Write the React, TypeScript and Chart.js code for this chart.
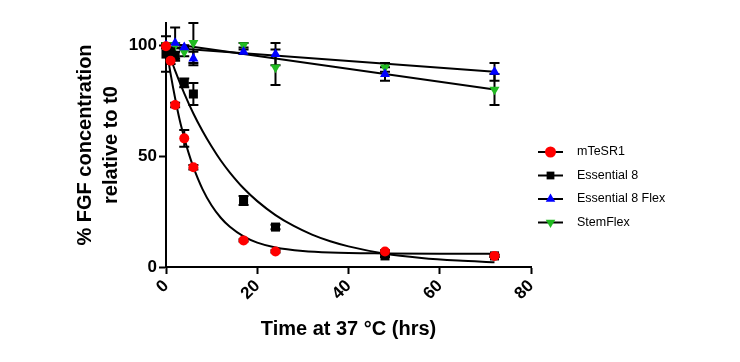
import React, { useEffect, useRef } from "react";
import { Chart, registerables } from "chart.js";

Chart.register(...registerables);

const FONT = '"Liberation Sans", Arial, Helvetica, sans-serif';

// Series meta
const seriesNames = ["mTeSR1", "Essential 8", "Essential 8 Flex", "StemFlex"];
const seriesColors = ["#ff0000", "#000000", "#0000ff", "#22bb22"];
const seriesShapes = ["circle", "rect", "triangle", "triangleDown"];

// Measured points (time in hours, % of t0, error)
const mTeSR1Times = [0, 1, 2, 4, 6, 17, 24, 48, 72];
const mTeSR1Values = [99.5, 93, 73, 58, 45, 12, 7, 7, 5];
const mTeSR1Errors = [1, 1.5, 1, 3.8, 1, 0.5, 0.5, 0.5, 0.5];

const e8Times = [0, 1, 2, 4, 6, 17, 24, 48, 72];
const e8Values = [96, 97, 95, 83, 78, 30, 18, 5, 5];
const e8Errors = [8, 2, 2, 2, 5, 2, 1, 0.5, 0.5];

const e8FlexTimes = [0, 2, 4, 6, 17, 24, 48, 72];
const e8FlexValues = [100, 101, 99, 94, 97, 96, 87, 88];
const e8FlexErrors = [1, 7, 1, 3, 1, 5, 3, 4];

const stemFlexTimes = [0, 2, 4, 6, 17, 24, 48, 72];
const stemFlexValues = [100, 100, 97, 101, 100, 90, 90, 80];
const stemFlexErrors = [1, 1, 2, 9, 1, 8, 2, 7];

// Fitted curves
const mTeSR1FitTimes = [0, 1, 2, 3, 4, 5, 6, 8, 10, 12, 14, 17, 20, 24, 30, 36, 48, 60, 72];
const mTeSR1FitValues = [100, 87.2, 76.1, 66.3, 58.3, 51.1, 45, 35.1, 27.7, 22.2, 18.1, 13.8, 11.0, 8.8, 7.2, 6.5, 6.1, 6.0, 6.0];

const e8FitTimes = [0, 2, 4, 6, 8, 10, 12, 14, 17, 20, 24, 28, 32, 36, 40, 48, 56, 64, 72];
const e8FitValues = [100, 88.5, 78.3, 69.2, 61.3, 54.3, 48.0, 42.6, 35.5, 29.7, 23.4, 18.5, 14.6, 11.6, 9.3, 6.0, 4.1, 2.9, 2.1];

const e8FlexFitTimes = [0, 72];
const e8FlexFitValues = [99, 88];

const stemFlexFitTimes = [0, 72];
const stemFlexFitValues = [101, 80];

// Axis ticks
const xTickValues = [0, 20, 40, 60, 80];
const yTickValues = [0, 50, 100];

const toPoints = (xs: number[], ys: number[]) => xs.map((x, i) => ({ x, y: ys[i] }));

function drawShape(ctx: CanvasRenderingContext2D, shape: string, x: number, y: number, r: number) {
  ctx.beginPath();
  if (shape === "circle") {
    ctx.arc(x, y, r, 0, Math.PI * 2);
  } else if (shape === "rect") {
    const s = r * Math.SQRT1_2;
    ctx.rect(x - s, y - s, 2 * s, 2 * s);
  } else if (shape === "triangle") {
    ctx.moveTo(x, y - r);
    ctx.lineTo(x + r * 0.866, y + r * 0.5);
    ctx.lineTo(x - r * 0.866, y + r * 0.5);
    ctx.closePath();
  } else {
    ctx.moveTo(x, y + r);
    ctx.lineTo(x + r * 0.866, y - r * 0.5);
    ctx.lineTo(x - r * 0.866, y - r * 0.5);
    ctx.closePath();
  }
  ctx.fill();
}

const errorBarsPlugin = {
  id: "errorBars",
  beforeDatasetsDraw(chart: any) {
    const ctx = chart.ctx;
    const xs = chart.scales.x;
    const ys = chart.scales.y;
    ctx.save();
    ctx.strokeStyle = "#000";
    ctx.lineWidth = 2;
    chart.data.datasets.forEach((ds: any) => {
      const errs = ds.errors;
      if (!errs) return;
      ds.data.forEach((p: any, i: number) => {
        const e = errs[i];
        if (!e) return;
        const x = xs.getPixelForValue(p.x);
        const y1 = ys.getPixelForValue(p.y + e);
        const y2 = ys.getPixelForValue(p.y - e);
        ctx.beginPath();
        ctx.moveTo(x, y1);
        ctx.lineTo(x, y2);
        ctx.moveTo(x - 5, y1);
        ctx.lineTo(x + 5, y1);
        ctx.moveTo(x - 5, y2);
        ctx.lineTo(x + 5, y2);
        ctx.stroke();
      });
    });
    ctx.restore();
  },
};

const legendPlugin = {
  id: "customLegend",
  afterDraw(chart: any) {
    const { ctx, chartArea } = chart;
    const x0 = chartArea.right + 7;
    const y0 = 152;
    const dy = 23.5;
    ctx.save();
    seriesNames.forEach((name, i) => {
      const y = y0 + i * dy;
      ctx.strokeStyle = "#000";
      ctx.lineWidth = 2;
      ctx.beginPath();
      ctx.moveTo(x0, y);
      ctx.lineTo(x0 + 25, y);
      ctx.stroke();
      ctx.fillStyle = seriesColors[i];
      drawShape(ctx, seriesShapes[i], x0 + 12.5, y, 5.5);
      ctx.fillStyle = "#000";
      ctx.font = `12.5px ${FONT}`;
      ctx.textBaseline = "middle";
      ctx.textAlign = "left";
      ctx.fillText(name, x0 + 39, y);
    });
    ctx.restore();
  },
};

export default function App() {
  const canvasRef = useRef<HTMLCanvasElement | null>(null);

  useEffect(() => {
    if (!canvasRef.current) return;
    const pointDs = (i: number, xs: number[], ys: number[], errs: number[], r: number) => ({
      type: "scatter",
      label: seriesNames[i],
      data: toPoints(xs, ys),
      errors: errs,
      showLine: false,
      pointStyle: seriesShapes[i] === "triangleDown" ? "triangle" : seriesShapes[i],
      rotation: seriesShapes[i] === "triangleDown" ? 180 : 0,
      pointRadius: r,
      pointHoverRadius: r,
      backgroundColor: seriesColors[i],
      borderColor: seriesColors[i],
      borderWidth: 0,
      clip: false,
    });
    const fitDs = (xs: number[], ys: number[]) => ({
      type: "line",
      label: "fit",
      data: toPoints(xs, ys),
      showLine: true,
      pointRadius: 0,
      borderColor: "#000",
      borderWidth: 2,
      fill: false,
      cubicInterpolationMode: "monotone",
      clip: false,
    });

    const chart = new Chart(canvasRef.current, {
      type: "scatter",
      data: {
        datasets: [
          pointDs(0, mTeSR1Times, mTeSR1Values, mTeSR1Errors, 5),
          pointDs(1, e8Times, e8Values, e8Errors, 6.4),
          pointDs(2, e8FlexTimes, e8FlexValues, e8FlexErrors, 5.8),
          pointDs(3, stemFlexTimes, stemFlexValues, stemFlexErrors, 5.8),
          fitDs(mTeSR1FitTimes, mTeSR1FitValues),
          fitDs(e8FitTimes, e8FitValues),
          fitDs(e8FlexFitTimes, e8FlexFitValues),
          fitDs(stemFlexFitTimes, stemFlexFitValues),
        ] as any,
      },
      options: {
        responsive: false,
        animation: false,
        devicePixelRatio: 1,
        layout: { padding: { left: 72, top: 23, right: 209, bottom: 17 } },
        plugins: {
          legend: { display: false },
          tooltip: { enabled: false },
        },
        scales: {
          x: {
            type: "linear",
            min: 0,
            max: 80,
            afterBuildTicks: (scale: any) => {
              scale.ticks = xTickValues.map((v) => ({ value: v }));
            },
            afterFit: (scale: any) => {
              scale.height = 78;
            },
            grid: { drawOnChartArea: false, drawTicks: true, tickLength: 7, tickWidth: 2, tickColor: "#000" },
            border: { display: true, color: "#000", width: 2 },
            ticks: {
              minRotation: 45,
              maxRotation: 45,
              padding: 2,
              color: "#000",
              font: { family: FONT, size: 17, weight: "bold" },
            },
            title: {
              display: true,
              text: "Time at 37 °C (hrs)",
              color: "#000",
              font: { family: FONT, size: 20, weight: "bold", lineHeight: 1.2 },
              padding: { top: 0, bottom: 4 },
            },
          },
          y: {
            type: "linear",
            min: 0,
            max: 110,
            afterBuildTicks: (scale: any) => {
              scale.ticks = yTickValues.map((v) => ({ value: v }));
            },
            afterFit: (scale: any) => {
              scale.width = 94;
            },
            grid: { drawOnChartArea: false, drawTicks: true, tickLength: 7, tickWidth: 2, tickColor: "#000" },
            border: { display: true, color: "#000", width: 2 },
            ticks: {
              padding: 2,
              color: "#000",
              font: { family: FONT, size: 17, weight: "bold" },
            },
            title: {
              display: true,
              text: ["% FGF concentration", "relative to t0"],
              color: "#000",
              font: { family: FONT, size: 20, weight: "bold", lineHeight: 1.3 },
              padding: { top: 0, bottom: 0 },
            },
          },
        },
      } as any,
      plugins: [errorBarsPlugin, legendPlugin],
    });
    return () => chart.destroy();
  }, []);

  return (
    <div style={{ position: "absolute", left: 0, top: 0, width: 740, height: 362, background: "#fff" }}>
      <canvas ref={canvasRef} width={740} height={362} style={{ display: "block" }} />
    </div>
  );
}
